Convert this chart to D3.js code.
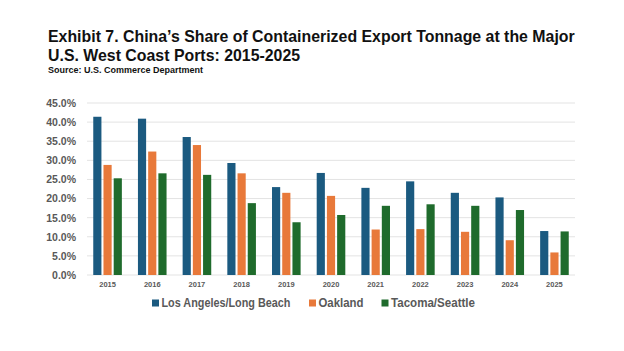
<!DOCTYPE html>
<html lang="en">
<head>
<meta charset="utf-8">
<script src="https://d3js.org/d3.v7.min.js"></script>
<style>
  body { margin: 0; background: #fff; }
  svg text { font-family: "Liberation Sans", Arial, sans-serif; }
</style>
</head>
<body>
<div id="chart_data"></div>
<script>
// data
var years = ["2015","2016","2017","2018","2019","2020","2021","2022","2023","2024","2025"];
var seriesNames = ["Los Angeles/Long Beach", "Oakland", "Tacoma/Seattle"];
var laLongBeach = [41.4, 40.9, 36.1, 29.3, 23.0, 26.7, 22.8, 24.5, 21.5, 20.3, 11.5];
var oakland     = [28.8, 32.3, 34.0, 26.6, 21.5, 20.7, 11.9, 12.0, 11.3, 9.1, 5.9];
var tacomaSeattle = [25.3, 26.6, 26.2, 18.8, 13.8, 15.7, 18.1, 18.5, 18.1, 17.0, 11.4];
var yTicks = [0, 5, 10, 15, 20, 25, 30, 35, 40, 45];
var colors = ["#1b5a80", "#e8793a", "#1f6b2c"];

var seriesValues = [laLongBeach, oakland, tacomaSeattle];

var W = 624, H = 351;
var margin = {top: 103, left: 87, right: 49, bottom: 76};
var width = W - margin.left - margin.right,
    height = H - margin.top - margin.bottom;

var svg = d3.select("#chart_data").append("svg")
    .attr("width", W).attr("height", H);

// title (the original font is narrow, so squeeze the text horizontally)
var titleG = svg.append("g");
var t1 = titleG.append("text").attr("x", 0).attr("y", 42)
    .style("font-size", "16.5px").style("font-weight", "bold").attr("fill", "#111")
    .text("Exhibit 7. China\u2019s Share of Containerized Export Tonnage at the Major");
titleG.append("text").attr("x", 0).attr("y", 61)
    .style("font-size", "16.5px").style("font-weight", "bold").attr("fill", "#111")
    .text("U.S. West Coast Ports: 2015-2025");
var sx = 527 / t1.node().getComputedTextLength();
titleG.attr("transform", "translate(48,0) scale(" + sx + ",1)");

svg.append("text").attr("x", 48).attr("y", 73)
    .style("font-size", "8.5px").style("font-weight", "bold").attr("fill", "#111")
    .attr("textLength", 155).attr("lengthAdjust", "spacingAndGlyphs")
    .text("Source: U.S. Commerce Department");

var g = svg.append("g")
    .attr("transform", "translate(" + margin.left + "," + margin.top + ")");

var x0 = d3.scaleBand().domain(years).range([0, width]).paddingInner(0.36).paddingOuter(0.14);
var x1 = d3.scaleBand().domain(seriesNames).range([0, x0.bandwidth()]).paddingInner(0.2);
var y = d3.scaleLinear().domain([0, 45]).range([height, 0]);

// gridlines
g.append("g")
    .selectAll("line").data(yTicks).enter().append("line")
    .attr("x1", 0).attr("x2", width)
    .attr("y1", function(d){ return y(d); }).attr("y2", function(d){ return y(d); })
    .attr("stroke", "#e3e3e3").attr("stroke-width", 1);

// y axis
var yAxis = g.append("g")
    .call(d3.axisLeft(y).tickValues(yTicks).tickSize(0).tickPadding(11)
        .tickFormat(function(d){ return d.toFixed(1) + "%"; }));
yAxis.select(".domain").remove();
yAxis.selectAll("text").style("font-size", "10.5px").style("font-weight", "bold")
    .attr("fill", "#595959");

// x axis
var xAxis = g.append("g").attr("transform", "translate(0," + height + ")")
    .call(d3.axisBottom(x0).tickSize(0).tickPadding(7));
xAxis.select(".domain").remove();
xAxis.selectAll("text").style("font-size", "7.5px").style("font-weight", "bold")
    .attr("fill", "#595959");

// bars
seriesNames.forEach(function(name, i) {
  g.append("g").selectAll("rect").data(years).enter().append("rect")
    .attr("x", function(d){ return x0(d) + x1(name); })
    .attr("width", x1.bandwidth())
    .attr("y", function(d, j){ return y(seriesValues[i][j]); })
    .attr("height", function(d, j){ return height - y(seriesValues[i][j]); })
    .attr("fill", colors[i]);
});

// legend
var legendX = [152, 309, 381.5];
var legendW = [129, 45, 84];
var legend = svg.append("g");
seriesNames.forEach(function(name, i) {
  legend.append("rect").attr("x", legendX[i]).attr("y", 299.5)
    .attr("width", 7).attr("height", 7).attr("fill", colors[i]);
  legend.append("text").attr("x", legendX[i] + 9.5).attr("y", 307)
    .style("font-size", "12.5px").style("font-weight", "bold").attr("fill", "#595959")
    .attr("textLength", legendW[i]).attr("lengthAdjust", "spacingAndGlyphs")
    .text(name);
});
</script>
</body>
</html>
